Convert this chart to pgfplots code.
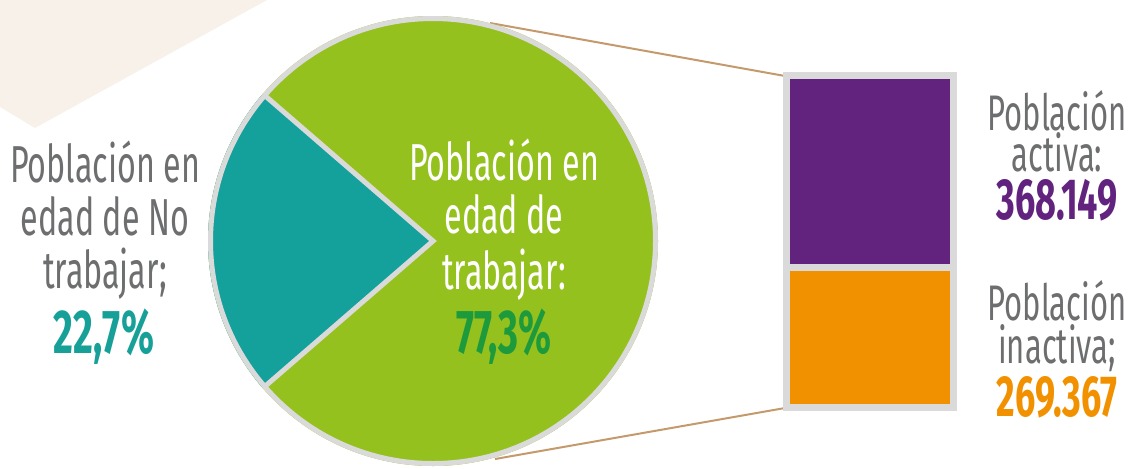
\documentclass[border=0pt]{standalone}
\usepackage{fontspec}
\setmainfont{Fira Sans}[FakeStretch=0.62]
\usepackage{pgfplots}
\pgfplotsset{compat=1.18}
\definecolor{beige}{HTML}{F7F1EA}
\definecolor{pgreen}{HTML}{95C11F}
\definecolor{pteal}{HTML}{14A19B}
\definecolor{gborder}{HTML}{DADADA}
\definecolor{conn}{HTML}{C49A6C}
\definecolor{gtext}{HTML}{6D6E70}
\definecolor{dgreen}{HTML}{1D9A3C}
\definecolor{tteal}{HTML}{17A098}
\definecolor{ppurple}{HTML}{62237F}
\definecolor{porange}{HTML}{F29100}
\begin{document}
\begin{tikzpicture}
\pgfmathsetmacro{\ha}{22.7*1.8}
\path[use as bounding box] (0,0) rectangle (566.5pt,234pt);
\begin{axis}[at={(0,0)}, anchor=south west, scale only axis,
  width=566.5pt, height=234pt, xmin=0, xmax=1133, ymin=0, ymax=468,
  y dir=reverse, hide axis, clip=false]
\addplot[fill=beige, draw=none] coordinates {(0,0) (267,0) (35,128) (0,107) (0,0)};
\draw[conn, line width=1pt] (axis cs:490,23) -- (axis cs:785,76);
\draw[conn, line width=1pt] (axis cs:495,459) -- (axis cs:785,408);
\fill[pgreen] (axis cs:433,241) circle[radius=112.5pt];
\fill[pteal] (axis cs:433,241) -- ++(180-\ha:112.5pt) arc[start angle=180-\ha, end angle=180+\ha, radius=112.5pt] -- cycle;
\draw[gborder, line width=2.5pt, line join=miter] (axis cs:433,241) ++(180-\ha:111pt) -- (axis cs:433,241) -- ++(180+\ha:111pt);
\draw[gborder, line width=2.5pt] (axis cs:433,241) circle[radius=111.25pt];
\begin{scope}[every node/.style={anchor=base, inner sep=0pt, font=\fontsize{26pt}{27pt}\selectfont}]
\node[gtext] at (axis cs:105,182) {Población en};
\node[gtext] at (axis cs:105,235) {edad de No};
\node[gtext] at (axis cs:105,288) {trabajar;};
\node[tteal, font=\fontsize{31pt}{32pt}\selectfont\bfseries] at (axis cs:104,353) {22,7\%};
\node[white] at (axis cs:504,180) {Población en};
\node[white] at (axis cs:504,233) {edad de};
\node[white] at (axis cs:504,289) {trabajar:};
\node[dgreen, font=\fontsize{31pt}{32pt}\selectfont\bfseries] at (axis cs:504,353) {77,3\%};
\node[gtext, align=center, font=\fontsize{25pt}{20.5pt}\selectfont] at (axis cs:1057,219)
  {Población\\activa:\\[3.5pt]\textcolor{ppurple}{\fontsize{29pt}{20.5pt}\selectfont\bfseries 368.149}};
\node[gtext, align=center, font=\fontsize{25pt}{21.5pt}\selectfont] at (axis cs:1057,416)
  {Población\\inactiva;\\[1pt]\textcolor{porange}{\fontsize{29pt}{21.5pt}\selectfont\bfseries 269.367}};
\end{scope}
\end{axis}
\begin{axis}[at={(393.25pt,30.25pt)}, anchor=south west, scale only axis,
  width=83.5pt, height=166pt, xmin=-0.5, xmax=0.5, ymin=0, ymax=637516,
  hide axis, ybar stacked, bar width=83.5pt, clip=false]
\addplot[fill=porange, draw=gborder, line width=3.5pt] coordinates {(0,269367)};
\addplot[fill=ppurple, draw=gborder, line width=3.5pt] coordinates {(0,368149)};
\end{axis}
\end{tikzpicture}
\end{document}
